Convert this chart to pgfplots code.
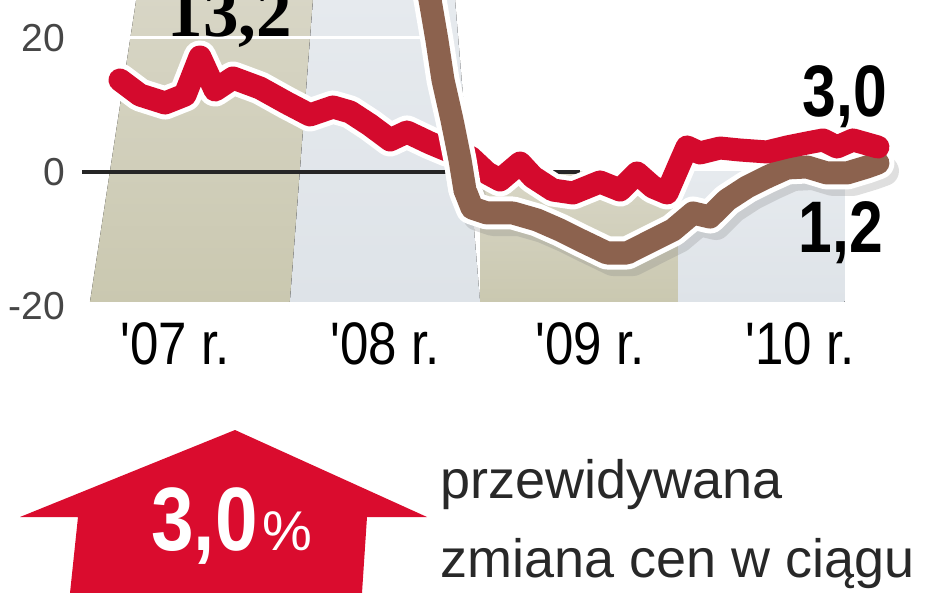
\documentclass[border=0pt]{standalone}
\usepackage{pgfplots}
\pgfplotsset{compat=1.18}
\usepackage{fontspec}
\setmainfont{Liberation Sans}
\newfontfamily\condfont{Liberation Sans}[FakeStretch=0.85]
\newfontfamily\numfont{Liberation Sans}[FakeStretch=0.83]
\newfontfamily\serifbold{Liberation Serif}
\definecolor{cred}{RGB}{212,10,45}
\definecolor{arrowred}{RGB}{218,12,46}
\definecolor{cbrown}{RGB}{140,98,78}
\definecolor{khakiT}{RGB}{216,214,198}
\definecolor{khakiB}{RGB}{202,200,176}
\definecolor{lightT}{RGB}{230,234,238}
\definecolor{lightB}{RGB}{222,227,232}
\definecolor{tickgray}{RGB}{70,70,70}
\definecolor{txt}{RGB}{40,40,40}
\pgfplotstableread{
x y
2007.153 13.73
2007.255 11.49
2007.383 10.30
2007.485 11.49
2007.561 17.16
2007.638 12.24
2007.730 14.03
2007.867 12.54
2008.005 10.30
2008.122 8.51
2008.240 9.70
2008.327 8.96
2008.429 7.01
2008.531 4.78
2008.617 5.97
2008.735 4.33
2008.821 3.28
2008.939 2.24
2009.026 -0.15
2009.092 -1.19
2009.194 1.34
2009.260 -0.75
2009.362 -2.69
2009.464 -3.13
2009.602 -1.49
2009.704 -2.69
2009.791 -0.15
2009.872 -2.24
2009.944 -3.13
2010.010 1.34
2010.046 3.73
2010.112 2.84
2010.214 3.58
2010.316 3.28
2010.454 2.99
2010.556 3.73
2010.658 4.33
2010.740 4.78
2010.811 3.73
2010.893 4.78
2011.02 3.73
}\redtab
\pgfplotstableread{
x y
2008.888 1.79
2008.913 -2.69
2008.949 -5.37
2009.026 -6.12
2009.158 -6.12
2009.281 -7.16
2009.398 -8.66
2009.500 -10.15
2009.638 -12.09
2009.740 -12.09
2009.872 -10.15
2009.974 -8.66
2010.077 -6.12
2010.163 -6.72
2010.250 -4.18
2010.352 -2.24
2010.454 -0.75
2010.556 0.60
2010.658 0.75
2010.760 -0.15
2010.862 -0.15
2010.964 0.75
2011.02 1.34
}\browntab
\pgfplotstableread{
x y
2008.704 30.15
2008.735 25.67
2008.770 19.70
2008.801 13.73
2008.847 7.76
2008.888 1.79
2008.913 -2.69
}\browntop
\begin{document}
\begin{tikzpicture}
\useasboundingbox (0,0) rectangle (474pt,-296.5pt);
\begin{axis}[
  at={(41.08pt,-153pt)}, anchor=south west,
  scale only axis, width=408.66pt, height=153pt,
  xmin=2006.96, xmax=2011.13, ymin=-20, ymax=25.67,
  axis line style={draw=none}, major tick length=0pt,
  clip=true,
  xtick={2007.434,2008.505,2009.551,2010.622},
  xticklabels={'07 r.,'08 r.,'09 r.,'10 r.},
  xticklabel style={font=\condfont\fontsize{30pt}{30pt}\selectfont, anchor=base, inner sep=0pt, yshift=-29.5pt, text=black},
  ytick={-20,0,20}, yticklabels={-20,0,20},
  yticklabel style={font=\fontsize{19.5pt}{19.5pt}\selectfont, anchor=east, inner sep=0pt, xshift=-8.5pt, text=tickgray},
]
% background bands
\fill[top color=khakiT, bottom color=khakiB] (axis cs:2007.0,-19.4) -- (axis cs:2008.02,-19.4) -- (axis cs:2008.14,26.5) -- (axis cs:2007.24,26.5) -- cycle;
\fill[top color=lightT, bottom color=lightB] (axis cs:2008.02,-19.4) -- (axis cs:2008.99,-19.4) -- (axis cs:2008.86,26.5) -- (axis cs:2008.14,26.5) -- cycle;
\fill[top color=khakiT, bottom color=khakiB] (axis cs:2008.99,-19.4) -- (axis cs:2010.0,-19.4) -- (axis cs:2010.0,0) -- (axis cs:2008.99,0) -- cycle;
\fill[top color=lightT, bottom color=lightB] (axis cs:2010.0,-19.4) -- (axis cs:2010.85,-19.4) -- (axis cs:2010.85,0) -- (axis cs:2010.0,0) -- cycle;
% white grid line at 20
\draw[white, line width=1.5pt] (axis cs:2007.0,20) -- (axis cs:2008.85,20);
% zero line
\draw[black!85, line width=1.6pt] (axis cs:2006.96,0) -- (axis cs:2009.5,0);
% shadow
\addplot[gray, opacity=0.25, line width=15pt, line join=round, line cap=round, xshift=3pt, yshift=-4pt] table {\browntab};
% halos
\addplot[white, line width=16.5pt, line join=round, line cap=round] table {\redtab};
\addplot[white, line width=16.5pt, line join=round, line cap=round] table {\browntab};
% brown lower part
\addplot[cbrown, line width=11.5pt, line join=round, line cap=round] table {\browntab};
% red
\addplot[cred, line width=11.5pt, line join=round, line cap=round] table {\redtab};
% brown upper part (over red)
\addplot[white, line width=16.5pt, line join=round, line cap=butt] table {\browntop};
\addplot[cbrown, line width=11.5pt, line join=round, line cap=round] table {\browntop};
\end{axis}
% value labels
\node[anchor=base, inner sep=0pt, font=\serifbold\bfseries\fontsize{35.5pt}{35.5pt}\selectfont] at (115pt,-18.5pt) {13,2};
\node[anchor=base, inner sep=0pt, font=\numfont\bfseries\fontsize{36.5pt}{36.5pt}\selectfont] at (422.5pt,-58.5pt) {3,0};
\node[anchor=base, inner sep=0pt, font=\numfont\bfseries\fontsize{36.5pt}{36.5pt}\selectfont] at (420.5pt,-126.5pt) {1,2};
% arrow
\fill[arrowred] (117.5pt,-215pt) -- (213.5pt,-258.5pt) -- (183.5pt,-258.5pt) -- (181pt,-296.5pt) -- (35pt,-296.5pt) -- (39pt,-258.5pt) -- (10pt,-258.5pt) -- cycle;
\node[anchor=base east, inner sep=0pt, text=white, font=\condfont\bfseries\fontsize{45pt}{45pt}\selectfont] at (129pt,-275pt) {3,0};
\node[anchor=base west, inner sep=0pt, text=white, font=\fontsize{28pt}{28pt}\selectfont] at (131pt,-275pt) {\%};
% caption text
\node[anchor=base west, inner sep=0pt, text=txt, font=\fontsize{27pt}{27pt}\selectfont] at (220pt,-249pt) {przewidywana};
\node[anchor=base west, inner sep=0pt, text=txt, font=\fontsize{27pt}{27pt}\selectfont] at (220pt,-288.5pt) {zmiana cen w ciągu};
\end{tikzpicture}
\end{document}
